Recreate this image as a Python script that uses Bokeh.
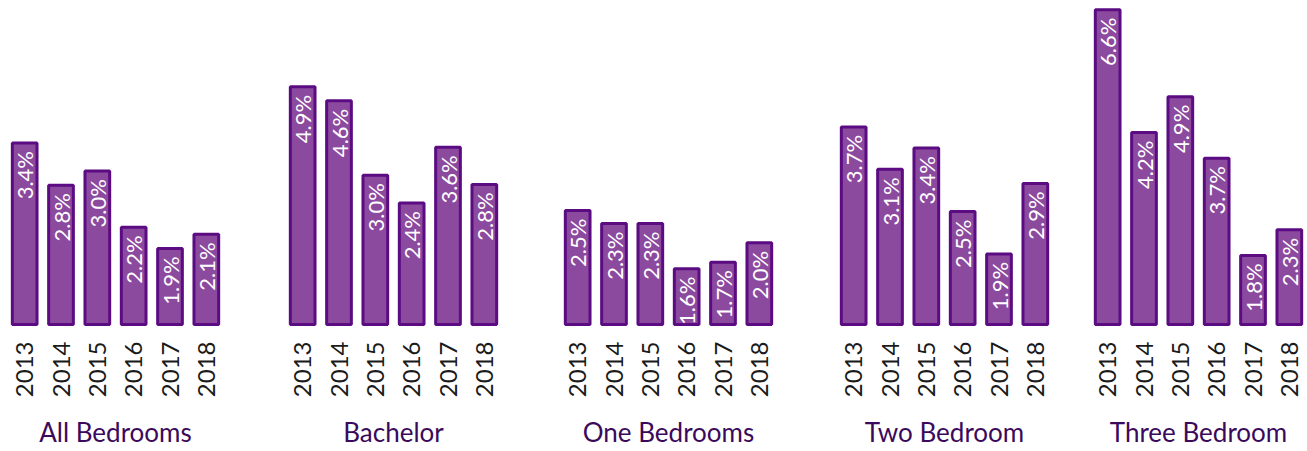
from math import pi
from bokeh.plotting import figure
from bokeh.layouts import row
from bokeh.models import ColumnDataSource, FactorRange, Range1d
from bokeh.core.properties import value
from bokeh.embed import file_html
from bokeh.resources import INLINE

years = ["2013", "2014", "2015", "2016", "2017", "2018"]
groups = ["All Bedrooms", "Bachelor", "One Bedrooms", "Two Bedroom", "Three Bedroom"]

all_bedrooms = [3.4, 2.8, 3.0, 2.2, 1.9, 2.1]
bachelor = [4.9, 4.6, 3.0, 2.4, 3.6, 2.8]
one_bedrooms = [2.5, 2.3, 2.3, 1.6, 1.7, 2.0]
two_bedroom = [3.7, 3.1, 3.4, 2.5, 1.9, 2.9]
three_bedroom = [6.6, 4.2, 4.9, 3.7, 1.8, 2.3]
series = [all_bedrooms, bachelor, one_bedrooms, two_bedroom, three_bedroom]

# per-panel layout: (bar baseline value, pixels per percentage point)
panel_scale = [(0.817, 70.7), (-0.215, 46.75), (0.734, 64.9), (0.90, 71.0), (0.45, 51.5)]
panel_width = [224, 278, 275, 276, 254]
panel_left = [6, 60, 57, 58, 36]

FILL = "#8C4A9F"
EDGE = "#5B0C82"
TITLE = "#3B0A5C"
FONT = "Lato"

FRAME_H = 328
H = 451

figs = []
for g, vals, (base, k), w, lb in zip(groups, series, panel_scale, panel_width, panel_left):
    src = ColumnDataSource(dict(
        year=years,
        val=vals,
        base=[base] * len(vals),
        label=[f"{v:.1f}%" for v in vals],
    ))
    p = figure(
        x_range=FactorRange(factors=years, range_padding=0),
        y_range=Range1d(base - 2.0 / k, base + 326.0 / k),
        width=w, height=H,
        output_backend="svg", toolbar_location=None,
        y_axis_location=None,
        min_border_left=lb, min_border_right=0, min_border_top=0,
        min_border_bottom=H - FRAME_H,
        background_fill_color="white", border_fill_color="white",
        outline_line_color=None,
    )
    p.vbar(x="year", top="val", bottom="base", width=0.68, source=src,
           fill_color=FILL, line_color=EDGE, line_width=3)
    p.text(x="year", y="val", text="label", source=src, angle=pi / 2,
           text_align="right", text_baseline="middle", y_offset=8,
           text_color="white", text_font=value(FONT), text_font_size="22px")
    p.xgrid.visible = False
    p.ygrid.visible = False
    ax = p.xaxis[0]
    ax.axis_line_color = None
    ax.major_tick_line_color = None
    ax.minor_tick_line_color = None
    ax.major_tick_out = 0
    ax.major_tick_in = 0
    ax.major_label_orientation = pi / 2
    ax.major_label_standoff = 15
    ax.major_label_text_font = FONT
    ax.major_label_text_font_size = "24px"
    ax.major_label_text_color = "#1a1a1a"
    ax.axis_label = g
    ax.axis_label_standoff = 16
    ax.axis_label_text_font = FONT
    ax.axis_label_text_font_style = "normal"
    ax.axis_label_text_font_size = "26px"
    ax.axis_label_text_color = TITLE
    figs.append(p)

layout = row(*figs, spacing=0)
open("out.html", "w").write(file_html(layout, INLINE))
